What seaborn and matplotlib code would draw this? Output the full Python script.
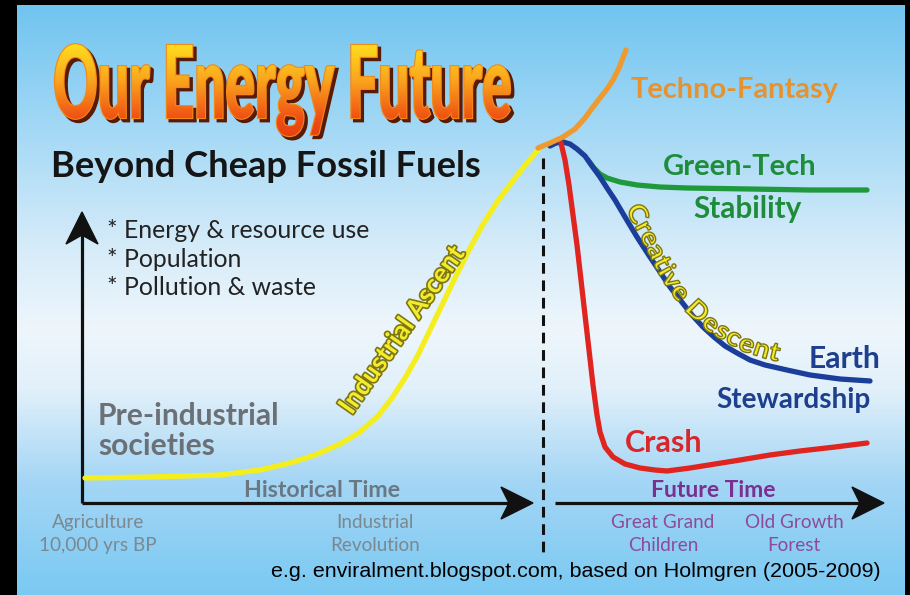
import numpy as np
import matplotlib
matplotlib.use("Agg")
import matplotlib.pyplot as plt
import matplotlib.patheffects as pe
from matplotlib.patches import Polygon, PathPatch
from matplotlib.textpath import TextPath
from matplotlib.font_manager import FontProperties
from matplotlib.path import Path
from matplotlib.transforms import Affine2D
import seaborn as sns

# ── curves (x to the right, y downwards, in px) ───────────────────────────────
ascent_x = [85, 150, 220, 260, 290, 315, 340, 360, 378, 392, 405, 418, 430,
            442, 455, 468, 482, 497, 512, 526, 538]
ascent_y = [478, 477, 475, 470, 463, 455, 444, 432, 416, 398, 378, 355, 330,
            305, 278, 252, 226, 202, 182, 164, 150]

techno_x = [538, 550, 563, 575, 585, 593, 600, 607, 613, 619, 626]
techno_y = [148, 143, 137, 129, 118, 107, 98, 89, 80, 68, 50]

steward_x = [550, 556, 563, 570, 577, 585, 592, 600, 607, 615, 625, 637, 648,
             660, 670, 681, 692, 703, 714, 725, 737, 750, 765, 787, 810, 840, 870]
steward_y = [146, 143, 142, 144, 149, 156, 166, 177, 188, 200, 217, 237, 254,
             272, 287, 301, 315, 327, 337, 346, 353, 360, 365, 370, 375, 379, 381]

greentech_x = [588, 594, 600, 607, 620, 637, 660, 687, 750, 810, 867]
greentech_y = [160, 168, 174, 178, 182, 185, 187, 188, 189, 190, 190]

crash_x = [561, 565, 569, 573, 577, 581, 585, 589, 593, 597, 600, 605, 613,
           625, 640, 655, 667, 690, 715, 740, 770, 800, 835, 867]
crash_y = [143, 160, 185, 215, 245, 280, 315, 350, 385, 415, 432, 447, 457,
           464, 468, 470, 471, 468, 464, 460, 455, 451, 447, 443]

TITLE = "Our Energy Future"
SUBTITLE = "Beyond Cheap Fossil Fuels"
BULLETS = ["* Energy & resource use", "* Population", "* Pollution & waste"]
PAST_TICKS = ["Agriculture\n10,000 yrs BP", "Industrial\nRevolution"]
FUTURE_TICKS = ["Great Grand\nChildren", "Old Growth\nForest"]
SOURCE = "e.g. enviralment.blogspot.com, based on Holmgren (2005-2009)"

# ── style ──────────────────────────────────────────────────────────────────────
sns.set_theme(style="white")
plt.rcParams["font.family"] = ["Lato", "DejaVu Sans"]

fig = plt.figure(figsize=(9.1, 5.95), dpi=100, facecolor="black")
ax = fig.add_axes([17 / 910, 0, 888 / 910, 590 / 595])
ax.axis("off")

# sky gradient
bg_y = [5, 120, 250, 330, 390, 480, 595]
bg_c = np.array([[112, 196, 240], [160, 215, 245], [215, 236, 249],
                 [238, 246, 252], [225, 240, 250], [165, 214, 245],
                 [122, 201, 242]]) / 255
yy = np.arange(5, 596)
grad = np.stack([np.interp(yy, bg_y, bg_c[:, i]) for i in range(3)], axis=-1)[:, None, :]
ax.imshow(grad, extent=(17, 905, 595, 5), aspect="auto", zorder=0)

# ── title with gradient fill and dark shadow ──────────────────────────────────
fp_title = FontProperties(family="Lato", weight="black")
tp = TextPath((0, 0), TITLE, size=1, prop=fp_title)
cap_h = TextPath((0, 0), "E", size=1, prop=fp_title).get_extents().height
ext = tp.get_extents()
tr = Affine2D().translate(-ext.x0, 0).scale((510 - 55) / ext.width, -73 / cap_h).translate(55, 118)
tpath = tr.transform_path(tp)
shadow = Affine2D().translate(3, 3).transform_path(tpath)
ax.add_patch(PathPatch(shadow, fc="#5a1a04", ec="#5a1a04", lw=2, zorder=4))
ax.add_patch(PathPatch(tpath, fc="#f7a21c", ec="#f08a18", lw=1.6, zorder=5))
clip = PathPatch(tpath, fc="none", ec="none", transform=ax.transData)
ax.add_patch(clip)
ty_ = np.linspace(40, 155, 200)
t_stops = [45, 80, 118, 150]
t_cols = np.array([[255, 220, 30], [250, 165, 30], [240, 80, 20], [225, 50, 15]]) / 255
tgrad = np.stack([np.interp(ty_, t_stops, t_cols[:, i]) for i in range(3)], axis=-1)[:, None, :]
im = ax.imshow(tgrad, extent=(50, 520, 155, 40), aspect="auto", zorder=6)
im.set_clip_path(clip)

# ── axes arrows and divider ───────────────────────────────────────────────────
ink = "#111111"
ax.plot([82, 82], [503, 232], color=ink, lw=2.3, solid_capstyle="butt", zorder=3)
ax.plot([82, 515], [503, 503], color=ink, lw=2.3, solid_capstyle="butt", zorder=3)
ax.plot([555, 866], [503, 503], color=ink, lw=2.3, solid_capstyle="butt", zorder=3)
ax.add_patch(Polygon([(82, 212), (66, 244), (82, 235), (98, 244)], closed=True, color=ink, zorder=3))
ax.add_patch(Polygon([(533, 503), (501, 487), (509, 503), (501, 519)], closed=True, color=ink, zorder=3))
ax.add_patch(Polygon([(884, 503), (852, 487), (860, 503), (852, 519)], closed=True, color=ink, zorder=3))
ax.plot([543, 543], [158, 552], color=ink, lw=2.2, ls=(0, (3.5, 2.2)), zorder=2)

# ── curves ─────────────────────────────────────────────────────────────────────
curves = [
    (greentech_x, greentech_y, "#1e9a3c"),
    (steward_x, steward_y, "#1a3e9a"),
    (crash_x, crash_y, "#e02420"),
    (ascent_x, ascent_y, "#f5ee1e"),
    (techno_x, techno_y, "#ef9a2e"),
]
for cx, cy, col in curves:
    sns.lineplot(x=cx, y=cy, sort=False, estimator=None, color=col, lw=3.8,
                 solid_capstyle="round", ax=ax, zorder=3)


# ── curved yellow label along the descent ─────────────────────────────────────
def curved_text(text, gx, gy, cap_px, stretch=1.0):
    fp = FontProperties(family="Lato", weight="bold")
    path = TextPath((0, 0), text, size=1, prop=fp)
    cap = TextPath((0, 0), "C", size=1, prop=fp).get_extents().height
    em = cap_px / cap
    v = path.vertices.copy() * em
    v[:, 0] *= stretch
    gx, gy = np.asarray(gx, float), np.asarray(gy, float)
    s = np.concatenate([[0], np.cumsum(np.hypot(np.diff(gx), np.diff(gy)))])
    length = path.get_extents().width * em * stretch
    u = v[:, 0] + (s[-1] - length) / 2
    h = v[:, 1] - cap_px / 2
    px, py = np.interp(u, s, gx), np.interp(u, s, gy)
    d = 14
    tx = np.interp(u + d, s, gx) - np.interp(u - d, s, gx)
    tyy = np.interp(u + d, s, gy) - np.interp(u - d, s, gy)
    n = np.hypot(tx, tyy)
    tx, tyy = tx / n, tyy / n
    X, Y = px + h * tyy, py - h * tx
    ax.add_patch(PathPatch(Path(np.column_stack([X, Y]), path.codes),
                           fc="#f3ec2b", ec="#7d7612", lw=1.0, zorder=6))


curved_text("Creative Descent",
            [624, 650, 670, 690, 715, 745, 770, 800],
            [186, 235, 275, 303, 325, 342, 350, 356], cap_px=19, stretch=1.1)

outline = [pe.withStroke(linewidth=2.4, foreground="#7d7612")]
ax.text(402, 330, "Industrial Ascent", rotation=55, rotation_mode="anchor",
        ha="center", va="center", fontsize=19, fontweight="bold",
        color="#f3ec2b", path_effects=outline, zorder=6)

# ── texts ──────────────────────────────────────────────────────────────────────
renderer = fig.canvas.get_renderer()


def fitted(x, y, s, width, ha="left", **kw):
    t = ax.text(x, y, s, ha=ha, va="baseline", fontsize=16, zorder=6, **kw)
    w = t.get_window_extent(renderer=renderer).width
    t.set_fontsize(16 * width / w)
    return t


sub = fitted(51, 177, SUBTITLE, 431, color="#151515", fontweight="bold")

b0 = fitted(107, 238, BULLETS[0], 263, color="#222222")
for line, yb in zip(BULLETS[1:], [267, 295]):
    ax.text(107, yb, line, ha="left", va="baseline", fontsize=b0.get_fontsize(),
            color="#222222", zorder=6)

pre = fitted(98, 425, "Pre-industrial", 182, color="#6b7075", fontweight="bold")
ax.text(98, 455, "societies", ha="left", va="baseline", fontsize=pre.get_fontsize(),
        color="#6b7075", fontweight="bold", zorder=6)

fitted(322, 497, "Historical Time", 157, ha="center", color="#6a7884", fontweight="bold")
fitted(713, 497, "Future Time", 125, ha="center", color="#7b2f8f", fontweight="bold")

probe = fitted(300, 300, "10,000 yrs BP", 117)
tick_fs = probe.get_fontsize()
probe.remove()
for (xc, lab), col in zip(list(zip([98, 375], PAST_TICKS)) + list(zip([663, 794], FUTURE_TICKS)),
                          ["#7b8890", "#7b8890", "#8e4a9a", "#8e4a9a"]):
    top, bottom = lab.split("\n")
    ax.text(xc, 528, top, ha="center", va="baseline", fontsize=tick_fs, color=col, zorder=6)
    ax.text(xc, 551, bottom, ha="center", va="baseline", fontsize=tick_fs, color=col, zorder=6)

fitted(735, 98, "Techno-Fantasy", 209, ha="center", color="#e8922d", fontweight="bold")
fitted(740, 175, "Green-Tech", 155, ha="center", color="#1f8c3b", fontweight="bold")
fitted(748, 218, "Stability", 109, ha="center", color="#1f8c3b", fontweight="bold")
fitted(880, 368, "Earth", 72, ha="right", color="#1d3f8e", fontweight="bold")
fitted(793, 408, "Stewardship", 155, ha="center", color="#1d3f8e", fontweight="bold")
fitted(664, 452, "Crash", 78, ha="center", color="#d8262b", fontweight="bold")

fitted(881, 577, SOURCE, 608, ha="right", color="black",
       family=["Liberation Sans Narrow", "Liberation Sans", "DejaVu Sans"])

ax.set_xlim(17, 905)
ax.set_ylim(595, 5)
fig.savefig("out.png", dpi=100, facecolor=fig.get_facecolor())
